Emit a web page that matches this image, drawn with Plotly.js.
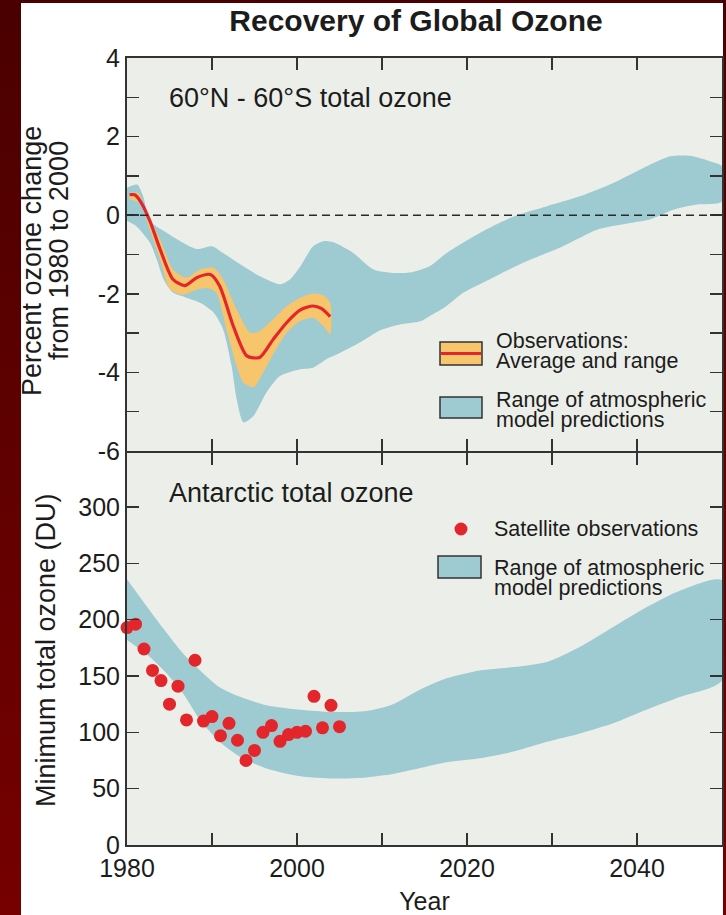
<!DOCTYPE html>
<html><head><meta charset="utf-8">
<script src="https://cdn.plot.ly/plotly-3.0.1.min.js"></script>
<style>
html,body{margin:0;padding:0;width:726px;height:915px;overflow:hidden;background:linear-gradient(#4a0000,#760000);}
#white{position:absolute;left:21px;top:3px;width:702px;height:912px;background:#ffffff;}
#chart{position:absolute;left:0;top:0;width:726px;height:915px;}
</style></head><body>
<div id="white"></div><div id="chart"></div>
<script>
// ---------- DATA ----------
// Top panel: 60N-60S total ozone, percent change from 1980
const modelTopUpperYears = [1980.0,1981.2,1981.9,1982.7,1984.7,1986.6,1988.2,1990.0,1991.3,1993.7,1995.6,1998.0,1999.2,2000.4,2001.9,2003.1,2004.3,2006.6,2009.0,2011.5,2013.5,2015.6,2017.6,2021.5,2025.5,2029.4,2033.3,2037.2,2041.1,2043.9,2046.2,2048.6,2050.0];
const modelTopUpper      = [0.70,0.78,0.48,-0.15,-0.45,-0.70,-0.86,-0.79,-0.96,-1.30,-1.55,-1.76,-1.63,-1.30,-0.79,-0.66,-0.69,-0.96,-1.38,-1.47,-1.45,-1.30,-0.96,-0.45,-0.03,0.23,0.48,0.82,1.24,1.50,1.51,1.37,1.24];
const modelTopLowerYears = [1980.0,1981.1,1982.7,1983.5,1984.3,1985.4,1987.0,1988.6,1990.2,1991.3,1992.3,1992.9,1993.7,1994.9,1996.4,1998.0,2000.4,2001.9,2003.5,2005.1,2007.4,2009.8,2012.1,2014.5,2015.6,2017.6,2019.6,2022.7,2026.6,2031.3,2035.3,2039.2,2041.5,2044.3,2047.0,2050.0];
const modelTopLower      = [-0.15,-0.28,-0.70,-1.13,-1.63,-1.97,-2.10,-2.23,-2.48,-2.90,-3.83,-4.68,-5.27,-5.10,-4.51,-4.09,-3.92,-3.88,-3.66,-3.50,-3.24,-2.93,-2.78,-2.70,-2.57,-2.31,-1.97,-1.63,-1.21,-0.79,-0.37,-0.20,-0.11,0.14,0.27,0.35];
const obsUpperYears = [1980.3,1981.3,1982.3,1983.9,1985.4,1987.0,1988.6,1990.2,1991.3,1992.9,1994.5,1995.6,1997.2,1998.8,2000.4,2001.9,2003.1,2003.9];
const obsUpper      = [0.57,0.57,0.06,-0.62,-1.38,-1.59,-1.38,-1.34,-1.63,-2.40,-2.99,-2.95,-2.65,-2.31,-2.10,-1.99,-2.04,-2.23];
const obsLowerYears = [1980.3,1981.5,1982.7,1983.9,1985.1,1986.6,1987.8,1989.4,1990.5,1991.7,1992.9,1993.7,1994.9,1995.6,1997.2,1998.8,2000.4,2001.9,2003.1,2003.9];
const obsLower      = [0.40,0.31,-0.37,-1.13,-1.89,-2.02,-1.93,-1.85,-1.97,-2.90,-3.83,-4.26,-4.38,-4.17,-3.54,-2.99,-2.69,-2.61,-2.82,-3.03];
const obsAvgYears = [1980.3,1980.9,1981.7,1982.7,1983.9,1985.4,1986.8,1988.2,1989.8,1990.9,1992.5,1994.1,1995.6,1997.2,1998.8,2000.4,2001.9,2002.9,2003.9];
const obsAvg      = [0.52,0.52,0.31,-0.15,-0.87,-1.63,-1.79,-1.59,-1.51,-1.80,-2.82,-3.58,-3.62,-3.16,-2.73,-2.41,-2.31,-2.38,-2.58];

// Bottom panel: Antarctic minimum total ozone (DU)
const modelBotUpperYears = [1980.0,1982.7,1984.7,1986.6,1988.6,1990.9,1993.3,1996.4,2000.4,2004.3,2008.2,2011.3,2014.5,2017.6,2021.5,2025.5,2029.4,2033.3,2037.2,2041.1,2045.1,2050.0];
const modelBotUpper      = [236,208,188,170,155,140,131.5,124,120,118,119,125,138,148,155,158,162.5,176,193.5,211,226,235];
const modelBotLowerYears = [1980.0,1982.7,1984.7,1986.6,1988.6,1990.9,1993.3,1996.4,2000.4,2004.3,2008.2,2011.3,2013.7,2017.6,2021.5,2025.5,2029.4,2033.3,2037.2,2041.1,2045.1,2050.0];
const modelBotLower      = [182,167,152,134.5,111,91.6,78.3,68,61,59,60,63,67,73.5,77,83,91.6,99,108,120,131.5,146];
const satYears  = [1980,1981,1982,1983,1984,1985,1986,1987,1988,1989,1990,1991,1992,1993,1994,1995,1996,1997,1998,1999,2000,2001,2002,2003,2004,2005];
const satValues = [193,196,174,155,146,125,141,111,164,110,114,97,108,93,75,84,100,106,92,98,100,101,132,104,124,105];

// Axis ticks
const xTickVals = [1980,1990,2000,2010,2020,2030,2040,2050];
const xTickText = ['1980','','2000','','2020','','2040',''];
const yTopTickVals = [-6,-5,-4,-3,-2,-1,0,1,2,3,4];
const yTopTickText = ['-6','','-4','','-2','','0','','2','','4'];
const yBotTickVals = [0,50,100,150,200,250,300];
const yBotTickText = ['0','50','100','150','200','250','300'];

// ---------- STYLE / GEOMETRY ----------
const FONT = 'Liberation Sans, Arial, Helvetica, sans-serif';
const TXT = '#1c1c1c';
const BLUE = '#9ecad1';
const ORANGE = '#f6c56c';
const RED = '#e3262b';
const L = 127, R = 722, T = 58, B = 845;
const px = X => (X - L) / (R - L);
const py = Y => (B - Y) / (B - T);

function band(xu, yu, xl, yl) {
  return {
    x: xu.concat(xl.slice().reverse()),
    y: yu.concat(yl.slice().reverse())
  };
}
const topBand = band(modelTopUpperYears, modelTopUpper, modelTopLowerYears, modelTopLower);
const obsBand = band(obsUpperYears, obsUpper, obsLowerYears, obsLower);
const botBand = band(modelBotUpperYears, modelBotUpper, modelBotLowerYears, modelBotLower);

const traces = [
  {x: botBand.x, y: botBand.y, xaxis: 'x', yaxis: 'y', mode: 'lines', fill: 'toself',
   fillcolor: BLUE, line: {width: 0, shape: 'spline', smoothing: 0.7}, hoverinfo: 'skip', name: 'Range of atmospheric model predictions'},
  {x: satYears, y: satValues, xaxis: 'x', yaxis: 'y', mode: 'markers', cliponaxis: false,
   marker: {size: 13, color: RED}, name: 'Satellite observations'},
  {x: topBand.x, y: topBand.y, xaxis: 'x2', yaxis: 'y2', mode: 'lines', fill: 'toself',
   fillcolor: BLUE, line: {width: 0, shape: 'spline', smoothing: 0.7}, hoverinfo: 'skip', name: 'Range of atmospheric model predictions'},
  {x: obsBand.x, y: obsBand.y, xaxis: 'x2', yaxis: 'y2', mode: 'lines', fill: 'toself',
   fillcolor: ORANGE, line: {width: 0, shape: 'spline', smoothing: 0.7}, hoverinfo: 'skip', name: 'Observations range'},
  {x: obsAvgYears, y: obsAvg, xaxis: 'x2', yaxis: 'y2', mode: 'lines',
   line: {color: RED, width: 3.2, shape: 'spline', smoothing: 0.7}, name: 'Observations average'}
];

const axisCommon = {
  ticks: 'inside', ticklen: 12, tickwidth: 1.5, tickcolor: '#333',
  showline: true, linecolor: '#333', linewidth: 2, mirror: 'ticks',
  showgrid: false, zeroline: false, fixedrange: true,
  tickfont: {family: FONT, size: 25, color: TXT}
};

const tfont = (s) => ({family: FONT, size: s, color: TXT});
function txt(text, X, Y, size, opts) {
  return Object.assign({text: text, xref: 'paper', yref: 'paper', x: px(X), y: py(Y),
    xanchor: 'left', yanchor: 'middle', showarrow: false, font: tfont(size)}, opts || {});
}

const annotations = [
  txt('60°N - 60°S total ozone', 167, 98, 27),
  txt('Antarctic total ozone', 167, 493, 27),
  txt('Percent ozone change', 32, 261, 27, {textangle: -90, xanchor: 'center'}),
  txt('from 1980 to 2000', 59, 251, 27, {textangle: -90, xanchor: 'center'}),
  txt('Minimum total ozone (DU)', 46, 650, 27, {textangle: -90, xanchor: 'center'}),
  txt('Observations:', 494, 340.5, 21.5),
  txt('Average and range', 494, 360.5, 21.5),
  txt('Range of atmospheric', 494, 400, 21.5),
  txt('model predictions', 494, 420, 21.5),
  txt('Satellite observations', 492, 529, 21.5),
  txt('Range of atmospheric', 492, 568, 21.5),
  txt('model predictions', 492, 587.5, 21.5)
];

function rect(x0, y0, x1, y1, fill) {
  return {type: 'rect', xref: 'paper', yref: 'paper', x0: px(x0), x1: px(x1), y0: py(y0), y1: py(y1),
    fillcolor: fill, line: {color: '#333', width: 1.5}, layer: 'above'};
}
const shapes = [
  {type: 'line', xref: 'x2', yref: 'y2', x0: 1980, x1: 2050, y0: 0, y1: 0,
   line: {color: '#2a2a2a', width: 1.6, dash: '8px,5px'}, layer: 'above'},
  rect(440, 342, 482, 365, ORANGE),
  {type: 'line', xref: 'paper', yref: 'paper', x0: px(441), x1: px(481), y0: py(353.5), y1: py(353.5),
   line: {color: RED, width: 3}},
  rect(440, 397, 482, 418, BLUE),
  {type: 'circle', xref: 'paper', yref: 'paper', xsizemode: 'pixel', ysizemode: 'pixel',
   xanchor: px(461), yanchor: py(529), x0: -6.5, x1: 6.5, y0: -6.5, y1: 6.5,
   fillcolor: RED, line: {width: 0}},
  rect(438, 556, 481, 578, BLUE)
];

const layout = {
  width: 726, height: 915,
  margin: {l: L, r: 726 - R, t: T, b: 915 - B, pad: 0},
  paper_bgcolor: 'rgba(0,0,0,0)', plot_bgcolor: '#ecefe9',
  showlegend: false,
  font: {family: FONT, color: TXT},
  title: {text: '<b>Recovery of Global Ozone</b>', font: {family: FONT, size: 30, color: TXT},
          xref: 'paper', x: px(416), xanchor: 'center', yref: 'container', y: 1 - 20.5 / 915, yanchor: 'middle'},
  xaxis: Object.assign({}, axisCommon, {domain: [0, 1], range: [1980, 2050], autorange: false, anchor: 'y',
    tickmode: 'array', tickvals: xTickVals, ticktext: xTickText,
    title: {text: 'Year', font: tfont(25), standoff: 14}}),
  yaxis: Object.assign({}, axisCommon, {domain: [0, py(453)], range: [0, 348], autorange: false, anchor: 'x',
    tickmode: 'array', tickvals: yBotTickVals, ticktext: yBotTickText}),
  xaxis2: Object.assign({}, axisCommon, {domain: [0, 1], range: [1980, 2050], autorange: false, anchor: 'y2',
    matches: 'x', tickmode: 'array', tickvals: xTickVals, showticklabels: false}),
  yaxis2: Object.assign({}, axisCommon, {domain: [py(451), 1], range: [-6, 4], autorange: false, anchor: 'x2',
    tickmode: 'array', tickvals: yTopTickVals, ticktext: yTopTickText}),
  annotations: annotations,
  shapes: shapes
};

Plotly.newPlot('chart', traces, layout, {displayModeBar: false, staticPlot: true});
</script></body></html>
